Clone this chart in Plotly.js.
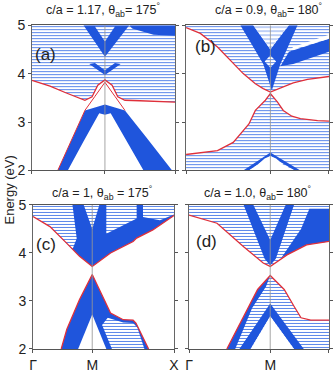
<!DOCTYPE html>
<html>
<head>
<meta charset="utf-8">
<script src="https://cdn.plot.ly/plotly-3.0.1.min.js"></script>
<style>body{margin:0;background:#fff}#chart{width:334px;height:381px}</style>
</head>
<body>
<div id="chart"></div>
<script>
// k runs along Γ-M-X (Γ = 0, X = 1), energies in eV
var tickText = ['Γ', 'M', 'X'];
var mA = 0.51, mB = 0.59, mC = 0.42, mD = 0.58;

// (a) c/a = 1.17, θab = 175°
var aEdgeK = [0, .126, .24, .336, .37, .42, .46, .51, .56, .60, .65, .755, .94, 1];
var aEdgeE = [3.86, 3.74, 3.6, 3.48, 3.45, 3.52, 3.76, 3.87, 3.76, 3.52, 3.45, 3.44, 3.41, 3.41];
var aVK = [.36, .68, .51];
var aVE = [5, 5, 4.35];
var aVInK = [.44, .58, .51];
var aVInE = [4.97, 4.97, 4.66];
var aTopRK = [.68, 1, 1, .85, .7];
var aTopRE = [5, 5, 4.78, 4.8, 4.93];
var aChevK = [.40, .51, .62, .58, .51, .44];
var aChevE = [4.2, 3.97, 4.2, 4.22, 4.07, 4.22];
var aValOutK = [.18, .27, .37, .44, .51, .58, .65, .8, .98];
var aValOutE = [2.0, 2.58, 3.24, 3.3, 3.36, 3.3, 3.24, 2.68, 2.0];
var aValInK = [.78, .66, .55, .51, .47, .36, .25];
var aValInE = [2.0, 2.6, 3.18, 3.15, 3.18, 2.6, 2.0];
var aThinK = [.18, .27, .37, .44, .51, .58, .65];
var aThinE = [2.0, 2.58, 3.24, 3.53, 3.82, 3.53, 3.24];

// (b) c/a = 0.9, θab = 180°
var bUpK = [0, .1, .22, .31, .40, .485, .54, .59, .66, .75, .85, 1];
var bUpE = [4.95, 4.83, 4.55, 4.28, 4.0, 3.79, 3.69, 3.62, 3.71, 3.81, 3.88, 3.94];
var bLoK = [0, .22, .33, .38, .44, .485, .555, .59, .64, .68, .74, .80, .92, 1];
var bLoE = [2.33, 2.41, 2.58, 2.76, 2.96, 3.24, 3.45, 3.59, 3.41, 3.24, 3.12, 3.07, 3.03, 3.02];
var bHumpK = [.44, .5, .55, .59, .63, .68, .76];
var bHumpE = [2.0, 2.12, 2.25, 2.3, 2.25, 2.12, 2.0];
var bRimK = [.40, .59, .80, .76, .59, .44];
var bRimE = [2.0, 2.37, 2.0, 2.0, 2.3, 2.0];
var bCoreK = [.38, .47, .59, .72, .78, .72, .66, .6, .54, .46];
var bCoreE = [5, 5, 4.5, 5, 5, 4.6, 4.2, 3.65, 4.2, 4.6];
var bUK = [.47, .53, .59, .65, .72];
var bUE = [5, 4.75, 4.5, 4.75, 5];
var bLoopK = [.55, .59, .63, .59];
var bLoopE = [4.25, 4.38, 4.25, 4.12];
var bBandRK = [.66, .72, 1, 1, .75];
var bBandRE = [4.15, 4.45, 4.72, 4.45, 4.2];
var bGapK = [.72, 1, 1, .75];
var bGapE = [4.47, 4.72, 4.8, 4.55];

// (c) c/a = 1, θab = 175°
var cUpK = [0, .12, .24, .33, .42, .55, .71, .735, .85, .97, 1];
var cUpE = [4.76, 4.55, 4.2, 3.93, 3.72, 4.0, 4.24, 4.31, 4.48, 4.72, 4.78];
var cLeftK = [0, .28, .31, .28, .24, .12, 0];
var cLeftE = [5, 5, 4.3, 4.08, 4.2, 4.55, 4.76];
var cUK = [.36, .47, .42];
var cUE = [5, 5, 4.5];
var cFanK = [.52, .735, .735, .52];
var cFanE = [5, 5, 4.72, 4.4];
var cTopRK = [.78, 1, 1, .9, .78];
var cTopRE = [5, 5, 4.8, 4.68, 4.75];
var cLoK = [.2, .24, .33, .42, .55, .64, .71, .73, .82];
var cLoE = [2.0, 2.41, 3.03, 3.55, 2.75, 2.61, 2.6, 2.54, 2.0];
var cHoleK = [.52, .42, .32];
var cHoleE = [2.0, 2.72, 2.0];
var cPaleK = [.56, .49, .53, .64, .71, .74, .79];
var cPaleE = [2.0, 2.5, 2.65, 2.55, 2.54, 2.45, 2.0];

// (d) c/a = 1.0, θab = 180°
var dUpK = [0, .2, .39, .53, .58, .70, .84, 1];
var dUpE = [4.79, 4.62, 4.13, 3.79, 3.72, 3.96, 4.17, 4.24];
var dVK = [.39, .46, .58, .69, .75, .62, .58, .54];
var dVE = [5, 5, 4.27, 5, 5, 3.88, 3.74, 3.88];
var dRightK = [.66, .70, .84, 1, 1, .86, .8];
var dRightE = [3.9, 3.96, 4.17, 4.24, 4.92, 4.92, 4.5];
var dLoK = [.27, .39, .49, .58, .68, .75, .8, .87, 1];
var dLoE = [2.0, 2.68, 3.24, 3.53, 3.24, 2.89, 2.65, 2.6, 2.6];
var dHoleK = [.44, .58, .75];
var dHoleE = [2.0, 2.68, 2.0];
var dRimK = [.36, .58, .82, .75, .58, .44];
var dRimE = [2.0, 2.95, 2.0, 2.0, 2.68, 2.0];
var dArmK = [.27, .39, .49, .58, .55, .45, .33];
var dArmE = [2.0, 2.68, 3.24, 3.53, 3.3, 2.85, 2.0];

var BLUE = '#1f55dc', RED = '#e0303a';
var DARK = {color: BLUE};
var LIGHT = {pattern: {shape: '-', size: 3, solidity: 0.3, fgcolor: '#4a79e8', bgcolor: '#ffffff'}};
var PALE = {pattern: {shape: '-', size: 4, solidity: 0.18, fgcolor: '#4a79e8', bgcolor: '#ffffff'}};
var WHITE = {color: '#ffffff'};
var traces = [];

function addFill(t, style) {
  if (style.pattern) { t.fillcolor = style.pattern.bgcolor; t.fillpattern = style.pattern; }
  else t.fillcolor = style.color;
  traces.push(t);
}
function area(k, e, style, ax) {
  addFill({x: k, y: e, xaxis: 'x' + ax, yaxis: 'y' + ax, mode: 'lines',
    fill: 'toself', line: {width: 0}, hoverinfo: 'skip'}, style);
}
// band that fills from its edge curve down to the bottom of the axis
function under(k, e, style, ax) {
  addFill({x: k, y: e, xaxis: 'x' + ax, yaxis: 'y' + ax, mode: 'lines',
    fill: 'tozeroy', line: {width: 0}, hoverinfo: 'skip'}, style);
}
function edge(k, e, ax, w) {
  traces.push({x: k, y: e, xaxis: 'x' + ax, yaxis: 'y' + ax, mode: 'lines',
    line: {color: RED, width: w || 1.3}, hoverinfo: 'skip'});
}
function mline(m, ax) {
  traces.push({x: [m, m], y: [2, 5], xaxis: 'x' + ax, yaxis: 'y' + ax, mode: 'lines',
    line: {color: 'rgba(150,150,150,0.85)', width: 1}, hoverinfo: 'skip'});
}

// (a)
area(aEdgeK.concat([1, 0]), aEdgeE.concat([5, 5]), LIGHT, '');
area(aVK, aVE, DARK, '');
area(aVInK, aVInE, LIGHT, '');
area(aTopRK, aTopRE, DARK, '');
area(aChevK, aChevE, DARK, '');
area(aValOutK.concat(aValInK), aValOutE.concat(aValInE), DARK, '');
edge(aThinK, aThinE, '', 1);
edge(aEdgeK, aEdgeE, '');
mline(mA, '');

// (b)
area(bUpK.concat([1, 0]), bUpE.concat([5, 5]), LIGHT, '2');
area(bCoreK, bCoreE, DARK, '2');
area(bUK, bUE, PALE, '2');
area(bLoopK, bLoopE, LIGHT, '2');
area(bBandRK, bBandRE, DARK, '2');
area(bGapK, bGapE, WHITE, '2');
under(bLoK, bLoE, LIGHT, '2');
area(bRimK, bRimE, DARK, '2');
area(bHumpK, bHumpE, WHITE, '2');
edge(bUpK, bUpE, '2');
edge(bLoK, bLoE, '2');
mline(mB, '2');

// (c)
area(cUpK.concat([1, 0]), cUpE.concat([5, 5]), DARK, '3');
area(cLeftK, cLeftE, LIGHT, '3');
area(cUK, cUE, LIGHT, '3');
area(cFanK, cFanE, LIGHT, '3');
area(cTopRK, cTopRE, LIGHT, '3');
under(cLoK, cLoE, DARK, '3');
area(cPaleK, cPaleE, LIGHT, '3');
area(cHoleK, cHoleE, WHITE, '3');
edge(cUpK, cUpE, '3');
edge(cLoK, cLoE, '3');
mline(mC, '3');

// (d)
area(dUpK.concat([1, 0]), dUpE.concat([5, 5]), LIGHT, '4');
area(dVK, dVE, DARK, '4');
area(dRightK, dRightE, DARK, '4');
under(dLoK, dLoE, LIGHT, '4');
area(dRimK, dRimE, DARK, '4');
area(dArmK, dArmE, DARK, '4');
area(dHoleK, dHoleE, WHITE, '4');
edge(dUpK, dUpE, '4');
edge(dLoK, dLoE, '4');
mline(mD, '4');

function xax(dom, m, labels) {
  return {domain: dom, range: [0, 1], tickvals: [0, m, 1], ticktext: tickText,
    showticklabels: labels, ticks: 'outside', ticklen: 3, tickcolor: '#555',
    linecolor: '#555', linewidth: 1, mirror: true, showgrid: false, zeroline: false,
    tickfont: {size: 14, color: '#222'}, fixedrange: true};
}
function yax(dom, anchor, labels) {
  return {domain: dom, anchor: anchor, range: [2, 5], tickvals: [2, 3, 4, 5],
    showticklabels: labels, ticks: 'outside', ticklen: 3, tickcolor: '#555',
    linecolor: '#666', linewidth: 1, mirror: 'ticks', showgrid: false, zeroline: false,
    tickfont: {size: 14, color: '#222'}, fixedrange: true};
}

var topDom = [0.5525, 0.934], botDom = [0.084, 0.462];
var layout = {
  width: 334, height: 381,
  margin: {l: 0, r: 0, t: 0, b: 0},
  paper_bgcolor: '#fff', plot_bgcolor: '#fff',
  showlegend: false,
  font: {family: 'Liberation Sans, Arial, sans-serif', color: '#222'},
  xaxis: Object.assign(xax([0.0958, 0.524], mA, false), {anchor: 'y'}),
  yaxis: yax(topDom, 'x', true),
  xaxis2: Object.assign(xax([0.557, 0.985], mB, false), {anchor: 'y2'}),
  yaxis2: yax(topDom, 'x2', false),
  xaxis3: Object.assign(xax([0.0988, 0.521], mC, true), {anchor: 'y3'}),
  yaxis3: yax(botDom, 'x3', true),
  xaxis4: Object.assign(xax([0.566, 0.985], mD, true), {anchor: 'y4'}),
  yaxis4: yax(botDom, 'x4', false),
  annotations: [
    {text: 'c/a = 1.17, θ<sub>ab</sub>= 175<sup>°</sup>', x: 0.308, y: 0.974},
    {text: 'c/a = 0.9, θ<sub>ab</sub>= 180<sup>°</sup>', x: 0.805, y: 0.974},
    {text: 'c/a = 1, θ<sub>ab</sub> = 175<sup>°</sup>', x: 0.305, y: 0.493},
    {text: 'c/a = 1.0, θ<sub>ab</sub>= 180<sup>°</sup>', x: 0.772, y: 0.493},
    {text: '(a)', x: 0.135, y: 0.856, font: {size: 17}},
    {text: '(b)', x: 0.614, y: 0.877, font: {size: 17}},
    {text: '(c)', x: 0.138, y: 0.357, font: {size: 17}},
    {text: '(d)', x: 0.617, y: 0.365, font: {size: 17}},
    {text: 'Energy (eV)', x: 0.027, y: 0.5, textangle: -90, font: {size: 13}}
  ].map(function (a) {
    return Object.assign({xref: 'paper', yref: 'paper', showarrow: false,
      xanchor: 'center', yanchor: 'middle', font: {size: 12.5}}, a);
  })
};

Plotly.newPlot('chart', traces, layout, {displayModeBar: false, staticPlot: true});
</script>
</body>
</html>
